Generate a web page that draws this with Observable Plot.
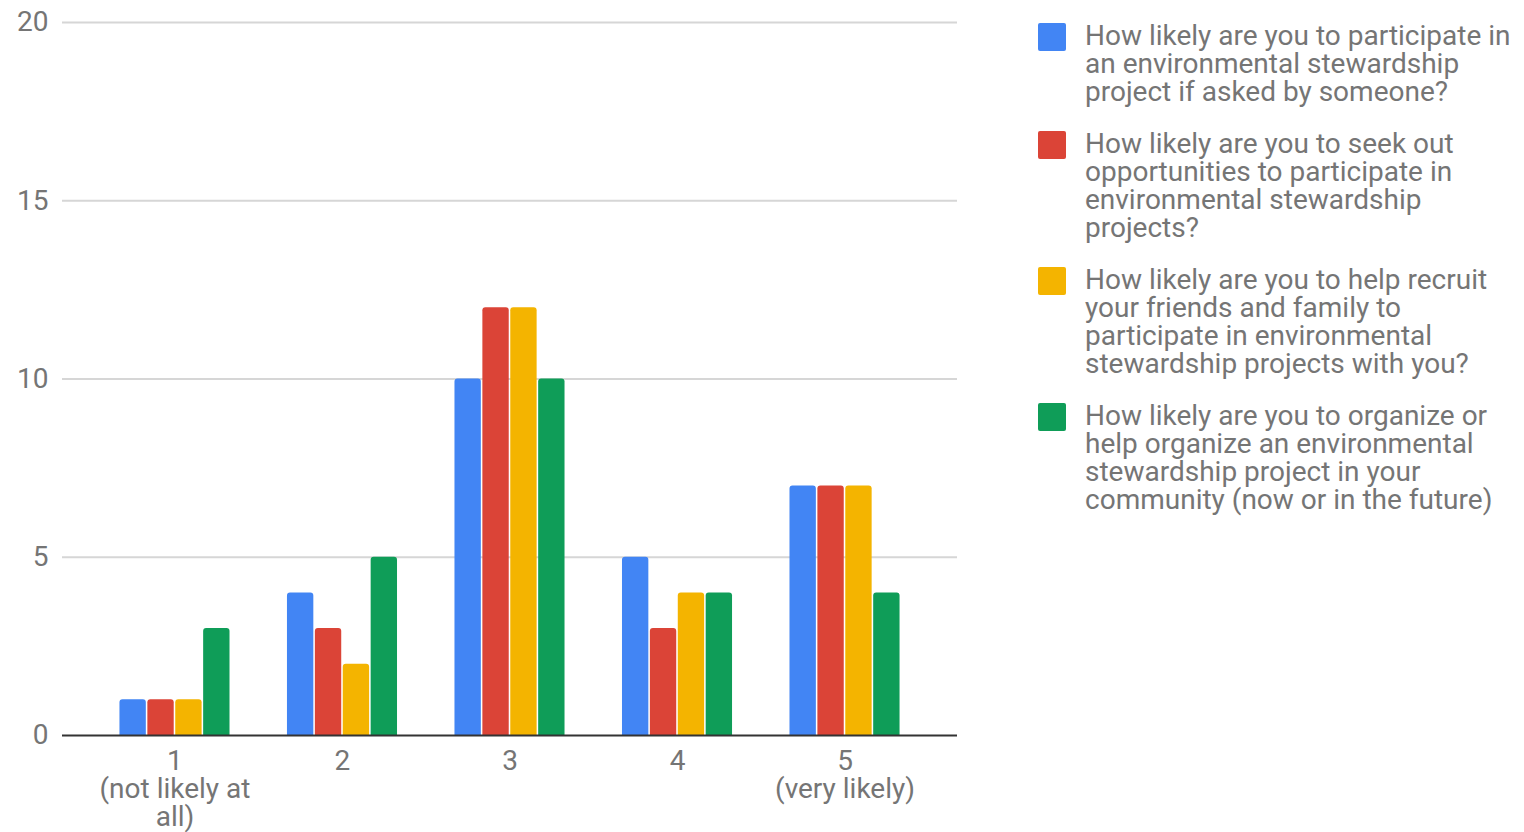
<!DOCTYPE html>
<html>
<head>
<meta charset="utf-8">
<script src="https://cdn.jsdelivr.net/npm/d3@7"></script>
<script src="https://cdn.jsdelivr.net/npm/@observablehq/plot@0.6"></script>
<style>
  html, body { margin: 0; padding: 0; background: #fff; }
  #wrap { position: relative; width: 1524px; height: 832px; font-family: Roboto, sans-serif; }
  #wrap svg { position: absolute; left: 0; top: 0; }
  #legend { position: absolute; left: 1038px; top: 22px; }
  .item { display: flex; align-items: flex-start; margin-bottom: 24px; }
  .sw { width: 28px; height: 28px; flex: none; margin-right: 19px; margin-top: 1px; border-radius: 2px; }
  .lbl { font-size: 28px; line-height: 28px; color: #757575; white-space: nowrap; }
</style>
</head>
<body>
<div id="wrap"><div id="legend"></div></div>
<script>
const categories = ["1", "2", "3", "4", "5"];
const tickLabels = ["1\n(not likely at\nall)", "2", "3", "4", "5\n(very likely)"];
const yTicks = [0, 5, 10, 15, 20];
const legendLines = [
  ["How likely are you to participate in", "an environmental stewardship", "project if asked by someone?"],
  ["How likely are you to seek out", "opportunities to participate in", "environmental stewardship", "projects?"],
  ["How likely are you to help recruit", "your friends and family to", "participate in environmental", "stewardship projects with you?"],
  ["How likely are you to organize or", "help organize an environmental", "stewardship project in your", "community (now or in the future)"]
];
const seriesNames = legendLines.map(l => l.join(" "));
const askedValues = [1, 4, 10, 5, 7];
const seekValues = [1, 3, 12, 3, 7];
const recruitValues = [1, 2, 12, 4, 7];
const organizeValues = [3, 5, 10, 4, 4];
const colors = ["#4285F4", "#DB4437", "#F4B400", "#0F9D58"];

const seriesValues = [askedValues, seekValues, recruitValues, organizeValues];
const data = [];
categories.forEach((c, i) => {
  seriesValues.forEach((vals, s) => data.push({category: c, series: seriesNames[s], value: vals[i]}));
});

const W = 1000, H = 832;
const common = {width: W, height: H, marginLeft: 62, marginRight: 43, marginTop: 22, marginBottom: 97,
  style: {fontFamily: "Roboto, sans-serif", background: "transparent", overflow: "visible"}};
const band = {type: "band", domain: categories, paddingInner: 0.343, paddingOuter: 0.343, round: false, axis: null};
const yScale = {domain: [0, 20], axis: null};

const back = Plot.plot({
  ...common,
  x: band,
  y: yScale,
  marks: [
    Plot.ruleY(yTicks.filter(d => d > 0), {stroke: "#d6d6d6", strokeWidth: 2}),
    Plot.axisY(yTicks, {tickSize: 0, tickPadding: 14, fontSize: 28, color: "#757575", label: null}),
    Plot.text(categories, {x: d => d, frameAnchor: "bottom", text: (d, i) => tickLabels[i],
      lineAnchor: "top", dy: 15, fontSize: 28, lineHeight: 1.0, fill: "#757575"})
  ]
});

const bars = Plot.plot({
  ...common,
  fx: band,
  x: {domain: seriesNames, paddingInner: 0.055, paddingOuter: 0, round: false, axis: null},
  y: yScale,
  color: {domain: seriesNames, range: colors},
  marks: [
    Plot.barY(data, {fx: "category", x: "series", y: "value", fill: "series", ry1: 3})
  ]
});

const base = Plot.plot({
  ...common,
  y: yScale,
  marks: [Plot.ruleY([0], {stroke: "#333", strokeWidth: 2})]
});

const wrap = document.getElementById("wrap");
wrap.insertBefore(back, wrap.firstChild);
wrap.insertBefore(bars, document.getElementById("legend"));
wrap.insertBefore(base, document.getElementById("legend"));

const legend = document.getElementById("legend");
legendLines.forEach((lines, i) => {
  const item = document.createElement("div");
  item.className = "item";
  const sw = document.createElement("div");
  sw.className = "sw";
  sw.style.background = colors[i];
  const lbl = document.createElement("div");
  lbl.className = "lbl";
  lbl.innerHTML = lines.join("<br>");
  item.appendChild(sw);
  item.appendChild(lbl);
  legend.appendChild(item);
});
</script>
</body>
</html>
